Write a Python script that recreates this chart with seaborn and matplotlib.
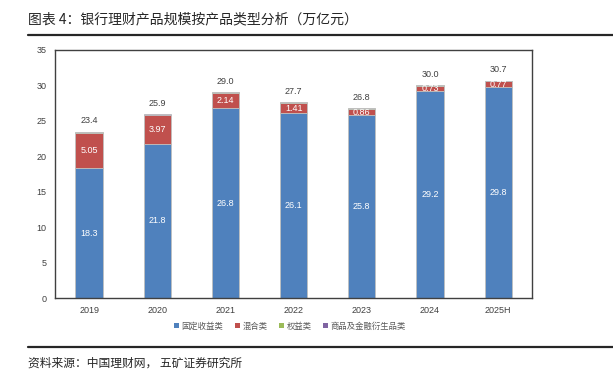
import matplotlib
matplotlib.use("Agg")
import matplotlib.pyplot as plt
from matplotlib.lines import Line2D
from matplotlib.patches import Patch
import numpy as np
import seaborn as sns

years = ["2019", "2020", "2021", "2022", "2023", "2024", "2025H"]
fixed_income = [18.3, 21.8, 26.8, 26.1, 25.8, 29.2, 29.8]
mixed = [5.05, 3.97, 2.14, 1.41, 0.86, 0.73, 0.77]
equity = [0.10, 0.12, 0.07, 0.10, 0.10, 0.07, 0.10]
derivatives = [0.01, 0.01, 0.01, 0.01, 0.01, 0.01, 0.01]
totals = ["23.4", "25.9", "29.0", "27.7", "26.8", "30.0", "30.7"]
mixed_labels = ["5.05", "3.97", "2.14", "1.41", "0.86", "0.73", "0.77"]
fixed_labels = ["18.3", "21.8", "26.8", "26.1", "25.8", "29.2", "29.8"]

series_names = ["固定收益类", "混合类", "权益类", "商品及金融衍生品类"]
colors = ["#4F81BD", "#C0504D", "#9BBB59", "#8064A2"]

sns.set_style("white")
plt.rcParams["font.family"] = ["Liberation Sans", "Noto Sans CJK SC", "DejaVu Sans"]

fig = plt.figure(figsize=(6.13, 3.81), dpi=100)
ax = fig.add_axes([0.0897, 0.2178, 0.7786, 0.651])

bottom = np.zeros(len(years))
for vals, color in zip([fixed_income, mixed, equity, derivatives], colors):
    sns.barplot(x=years, y=vals, bottom=bottom, color=color, width=0.4,
                edgecolor="#BFBFBF", linewidth=0.6, ax=ax, saturation=1)
    bottom = bottom + np.array(vals)

for i in range(len(years)):
    ax.text(i, fixed_income[i] / 2, fixed_labels[i], ha="center", va="center",
            color="white", fontsize=6.5)
    ax.text(i, fixed_income[i] + mixed[i] / 2, mixed_labels[i], ha="center",
            va="center", color="white", fontsize=6.5)
    ax.text(i, bottom[i] + 0.9, totals[i], ha="center", va="bottom",
            color="#404040", fontsize=6.5)

ax.set_ylim(0, 35)
ax.set_yticks(range(0, 36, 5))
ax.set_xlim(-0.5, len(years) - 0.5)
ax.tick_params(axis="both", length=0, labelsize=6.5, labelcolor="#404040", pad=6)
for side in ["left", "bottom", "top", "right"]:
    ax.spines[side].set_color("#404040")
    ax.spines[side].set_linewidth(1.0)

handles = [Patch(facecolor=c, edgecolor="none") for c in colors]
fig.legend(handles, series_names, loc="center", bbox_to_anchor=(0.473, 0.144),
           ncol=4, frameon=False, fontsize=6, handlelength=0.6, handleheight=0.6,
           handletextpad=0.3, columnspacing=1.4,
           prop={"family": ["Noto Sans CJK SC"], "size": 6})
for t in fig.legends[0].get_texts():
    t.set_color("#595959")

fig.text(0.046, 0.95, "图表 4：银行理财产品规模按产品类型分析（万亿元）", fontsize=10,
         va="center", ha="left", color="#262626", family=["Noto Sans CJK SC"])
fig.text(0.046, 0.047, "资料来源：中国理财网， 五矿证券研究所", fontsize=8.5,
         va="center", ha="left", color="#262626", family=["Noto Sans CJK SC"])
fig.add_artist(Line2D([0.046, 1.0], [0.908, 0.908], color="#262626", lw=1.6))
fig.add_artist(Line2D([0.046, 1.0], [0.089, 0.089], color="#262626", lw=1.6))

fig.savefig("out.png", dpi=100)
